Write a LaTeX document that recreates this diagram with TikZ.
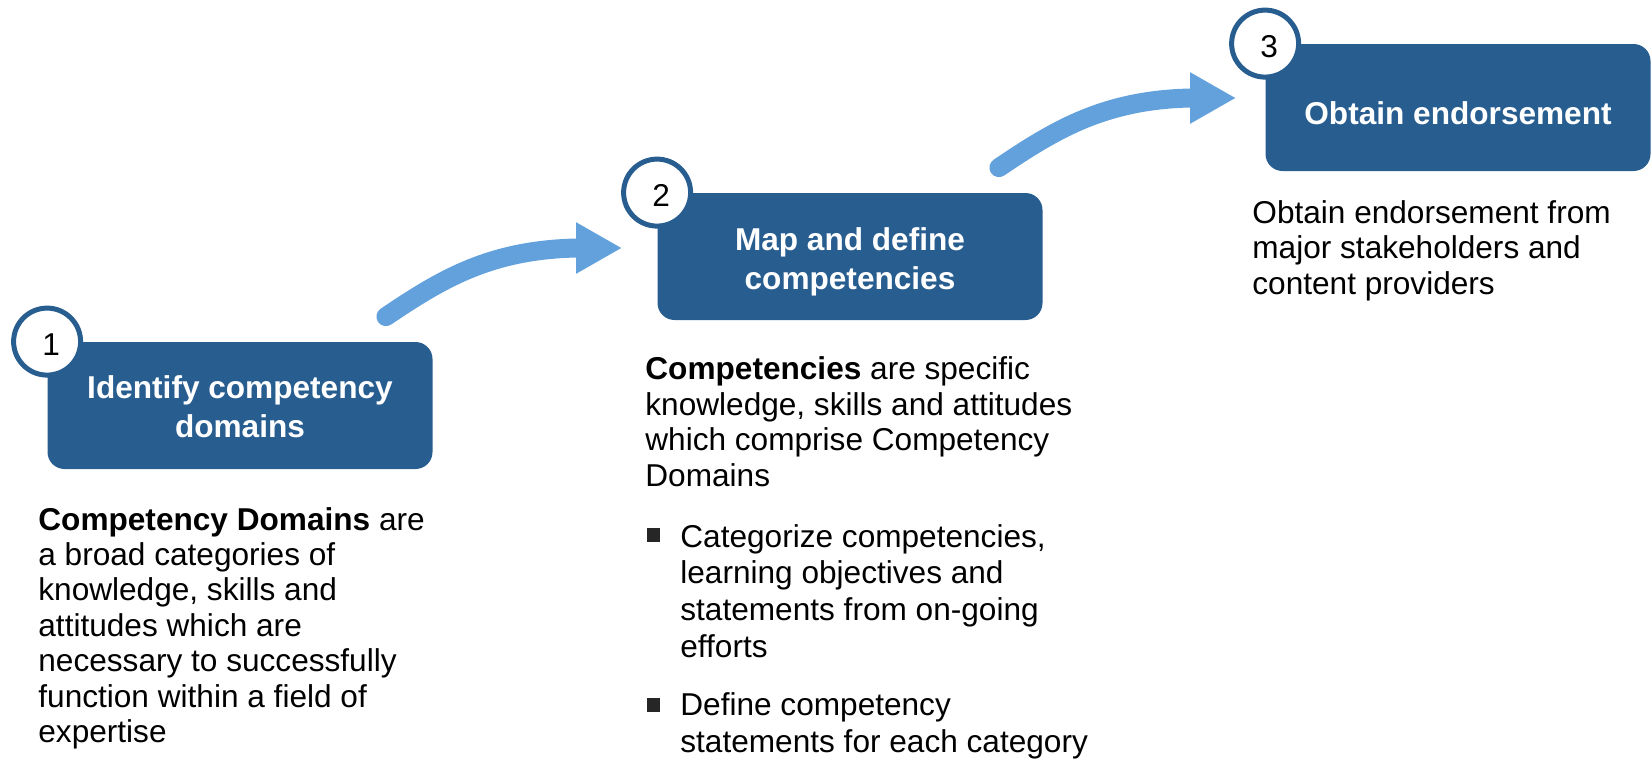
\documentclass[tikz,border=0pt]{standalone}
\usepackage{fontspec}
\setmainfont{Liberation Sans}
\usetikzlibrary{positioning, calc, arrows.meta}

\definecolor{stepblue}{RGB}{40,93,144}
\definecolor{flowblue}{RGB}{99,161,220}

\begin{document}
\begin{tikzpicture}[x=0.5pt, y=-0.5pt,
	stepbox/.style={fill=stepblue, rounded corners=8.5pt, minimum width=192.5pt, minimum height=63.5pt, inner sep=0pt},
	steptext/.style={inner sep=0pt, text=white, align=center, font=\fontsize{15.8}{19.5}\selectfont\bfseries},
	numcirc/.style={circle, draw=stepblue, line width=2.5pt, fill=white, minimum size=33.5pt, inner sep=0pt},
	numtext/.style={inner sep=0pt, font=\fontsize{15.8}{17.5}\selectfont},
	bodytext/.style={anchor=base west, align=left, inner sep=0pt, font=\fontsize{15.8}{17.7}\selectfont},
	itemtext/.style={bodytext, font=\fontsize{15.8}{18.3}\selectfont},
	bulletbox/.style={fill=black!85, minimum size=6.75pt, inner sep=0pt},
	flow/.style={draw=flowblue, line width=9.5pt, line cap=round, -{Triangle[length=23pt, width=24pt]}}]
	
	\useasboundingbox (0,0) rectangle (1652,762);
	
	%//the three steps
	\node [stepbox] (b1) at (240,405.5) {};
	\node [stepbox] (b2) at (850,256.5) {};
	\node [stepbox] (b3) at (1458,107.5) {};
	
	\node [steptext] (l1) at ($(b1)+(0,1)$) {Identify competency\\domains};
	\node [steptext] (l2) at ($(b2)+(0,5)$) {Map and define\\competencies};
	\node [steptext] (l3) at ($(b3)+(0,6)$) {Obtain endorsement};
	
	\foreach \b/\n in {b1/1, b2/2, b3/3}
	{
		\node [numcirc] (c\n) at (\b.north west) {};
		\node [numtext] (n\n) at ($(c\n)+(4,3)$) {\n};
	}
	
	%//arrows between steps
	\coordinate (s1) at ($(b1.north east)+(-47,-25)$);
	\coordinate (t1) at ($(b2.west)+(-35,-8.5)$);
	\coordinate (s2) at ($(b2.north east)+(-44,-25)$);
	\coordinate (t2) at ($(b3.west)+(-29,-9.5)$);
	
	\foreach \i in {1,2}
	\draw [flow] (s\i) .. controls +(55,-37) and +(-87,2) .. ($(t\i)+(-46,0)$) -- (t\i);
	
	%//texts below the steps (placed at the last baseline)
	\node [bodytext] (d1) at (38,742.5) {\textbf{Competency Domains} are\\a broad categories of\\knowledge, skills and\\attitudes which are\\necessary to successfully\\function within a field of\\expertise};
	
	\node [bodytext] (d2) at (645,486) {\textbf{Competencies} are specific\\knowledge, skills and attitudes\\which comprise Competency\\Domains};
	
	\node [itemtext] (i1) at (680,657) {Categorize competencies,\\learning objectives and\\statements from on-going\\efforts};
	\node [itemtext] (i2) at (680,752.5) {Define competency\\statements for each category};
	\node [bulletbox] (p1) at (653.5,535) {};
	\node [bulletbox] (p2) at (653.5,705) {};
	
	\node [bodytext] (d3) at (1252,294) {Obtain endorsement from\\major stakeholders and\\content providers};
	
\end{tikzpicture}
\end{document}
